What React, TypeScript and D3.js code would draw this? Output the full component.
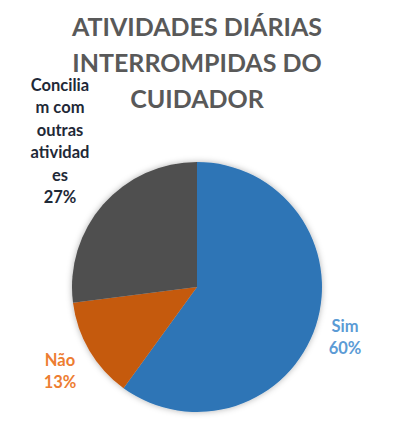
import React from 'react';
import * as d3 from 'd3';

const categories = ['Sim', 'Não', 'Concilia m com outras atividad es'];
const values = [60, 13, 27];
const sliceColors = ['#2E75B6', '#C55A11', '#505050'];
const labelColors = ['#5B9BD5', '#ED7D31', '#1F2937'];
const titleLines = ['ATIVIDADES DIÁRIAS', 'INTERROMPIDAS DO', 'CUIDADOR'];
const labelLines = [
  ['Sim', '60%'],
  ['Não', '13%'],
  ['Concilia', 'm com', 'outras', 'atividad', 'es', '27%'],
];

const W = 394;
const H = 448;
const cx = 197;
const cy = 287;
const radius = 125;

// posições dos rótulos (centro do bloco de texto)
const labelPos = [
  { x: 345, y: 337 },
  { x: 60, y: 371 },
  { x: 60, y: 141 },
];

const App: React.FC = () => {
  const pie = d3.pie<number>().value(d => d).sort(null);
  const arcs = pie(values);
  const arc = d3.arc<d3.PieArcDatum<number>>().innerRadius(0).outerRadius(radius);
  const lineH = 22.5;

  return (
    <svg width={W} height={H} style={{ position: 'absolute', left: 0, top: 0 }}
      fontFamily="Lato, 'Open Sans', sans-serif">
      <defs>
        <filter id="shadow" x="-20%" y="-20%" width="140%" height="140%">
          <feDropShadow dx="0" dy="0" stdDeviation="3" floodColor="#000" floodOpacity="0.3" />
        </filter>
      </defs>
      <rect width={W} height={H} fill="#fff" />

      {titleLines.map((t, i) => (
        <text key={t} x={W / 2} y={36 + i * 36.2} textAnchor="middle" fontSize={25}
          fontWeight="bold" fill="#595959">
          {t}
        </text>
      ))}

      <g transform={`translate(${cx},${cy})`} filter="url(#shadow)">
        {arcs.map((a, i) => (
          <path key={categories[i]} d={arc(a) || ''} fill={sliceColors[i]} />
        ))}
      </g>

      {labelLines.map((lines, i) => {
        const p = labelPos[i];
        const y0 = p.y - ((lines.length - 1) * lineH) / 2;
        return (
          <text key={categories[i]} textAnchor="middle" fontSize={16.5} fontWeight="bold"
            fill={labelColors[i]}>
            {lines.map((l, j) => (
              <tspan key={j} x={p.x} y={y0 + j * lineH} dy="0.35em">{l}</tspan>
            ))}
          </text>
        );
      })}
    </svg>
  );
};

export default App;
